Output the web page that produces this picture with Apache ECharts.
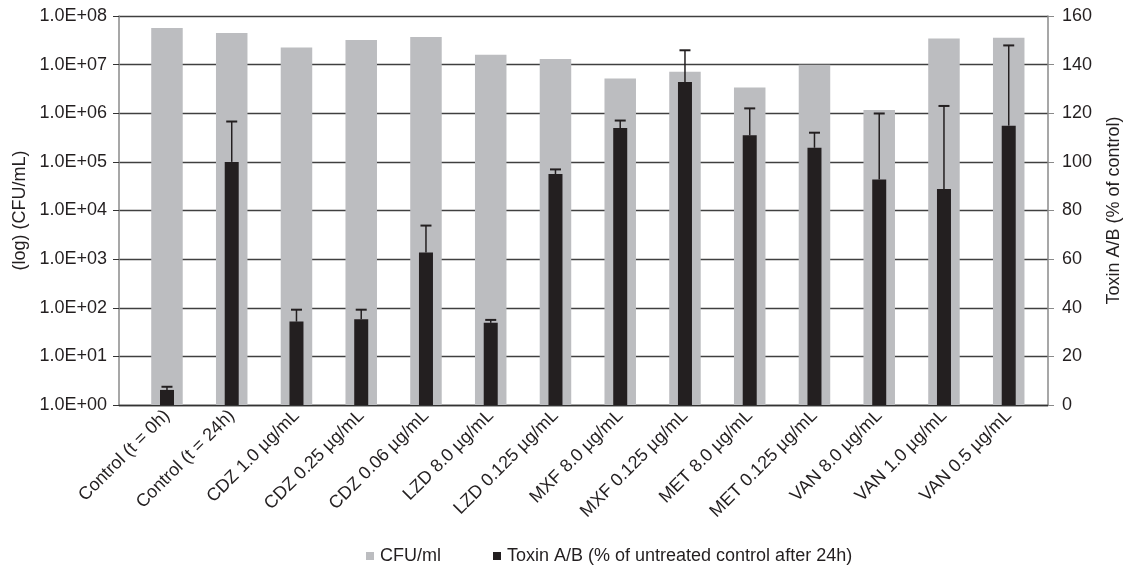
<!DOCTYPE html>
<html>
<head>
<meta charset="utf-8">
<script src="https://cdn.jsdelivr.net/npm/echarts@6/dist/echarts.min.js"></script>
<style>
html,body{margin:0;padding:0;background:#fff;}
#chart{width:1131px;height:569px;}
</style>
</head>
<body>
<div id="chart"></div>
<script>
const categories = ["Control (t = 0h)","Control (t = 24h)","CDZ 1.0 µg/mL","CDZ 0.25 µg/mL","CDZ 0.06 µg/mL","LZD 8.0 µg/mL","LZD 0.125 µg/mL","MXF 8.0 µg/mL","MXF 0.125 µg/mL","MET 8.0 µg/mL","MET 0.125 µg/mL","VAN 8.0 µg/mL","VAN 1.0 µg/mL","VAN 0.5 µg/mL"];
const cfu = [5.65e7, 4.47e7, 2.26e7, 3.2e7, 3.69e7, 1.6e7, 1.3e7, 5.2e6, 7.1e6, 3.4e6, 1.0e7, 1.16e6, 3.46e7, 3.57e7];
const toxin = [6.2, 100, 34.3, 35.3, 62.7, 33.8, 95, 113.9, 132.9, 110.9, 105.8, 92.8, 88.8, 114.9];
const toxinErrTop = [7.5, 116.6, 39.2, 39.2, 73.8, 35, 96.9, 117, 145.9, 122, 112, 119.9, 123, 147.9];

const FONT = "Liberation Sans, Arial, sans-serif";
const TXT = "#231f20";
const FS = 18;
const chart = echarts.init(document.getElementById('chart'));
const gridTop = 16, gridBottom = 164;
chart.setOption({
  animation: false,
  backgroundColor: '#fff',
  textStyle: {fontFamily: FONT},
  grid: [
    {left: 119, right: 75, top: gridTop, bottom: gridBottom},
    {left: 134.6, right: 89.9, top: gridTop, bottom: gridBottom}
  ],
  legend: {
    left: 366, top: 547, padding: 0, itemWidth: 8, itemHeight: 8, itemGap: 52,
    icon: 'rect',
    textStyle: {fontSize: FS, color: TXT, fontFamily: FONT, padding: [0, 0, 0, 1]},
    data: ['CFU/ml', 'Toxin A/B (% of untreated control after 24h)']
  },
  xAxis: [
    {gridIndex: 0, type: 'category', data: categories, axisLabel: {show: false}, axisTick: {show: false},
     axisLine: {show: true, lineStyle: {color: '#333', width: 1.3}}},
    {gridIndex: 1, type: 'category', data: categories, axisLine: {show: false}, axisTick: {show: false},
     axisLabel: {rotate: 45, interval: 0, margin: 8, fontSize: FS, color: TXT, fontFamily: FONT}},
    {gridIndex: 1, type: 'category', data: categories, show: false}
  ],
  yAxis: [
    {gridIndex: 0, type: 'log', min: 1, max: 1e8, logBase: 10, position: 'left',
     name: '(log) (CFU/mL)', nameLocation: 'middle', nameGap: 90,
     nameTextStyle: {fontSize: FS, color: TXT, fontFamily: FONT},
     axisLine: {show: true, lineStyle: {color: '#8a8a8a', width: 1.5}},
     axisTick: {show: true, length: 6, inside: false, lineStyle: {color: '#333'}},
     splitLine: {show: true, lineStyle: {color: '#404040', width: 1.3}},
     axisLabel: {fontSize: FS, color: TXT, fontFamily: FONT, margin: 12,
       formatter: v => '1.0E+0' + Math.round(Math.log10(v))}},
    {gridIndex: 0, type: 'value', min: 0, max: 160, interval: 20, position: 'right',
     name: 'Toxin A/B (% of control)', nameLocation: 'middle', nameGap: 57, nameRotate: 90,
     nameTextStyle: {fontSize: FS, color: TXT, fontFamily: FONT},
     axisLine: {show: true, lineStyle: {color: '#8a8a8a', width: 1.5}},
     axisTick: {show: true, length: 6, lineStyle: {color: '#8a8a8a'}},
     splitLine: {show: false},
     axisLabel: {fontSize: FS, color: TXT, fontFamily: FONT, margin: 14}},
    {gridIndex: 1, type: 'log', min: 1, max: 1e8, logBase: 10, show: false},
    {gridIndex: 1, type: 'value', min: 0, max: 160, interval: 20, show: false}
  ],
  series: [
    {name: 'CFU/ml', type: 'bar', xAxisIndex: 1, yAxisIndex: 2, data: cfu, barWidth: 31.5,
     itemStyle: {color: '#bcbdc0'}},
    {name: 'Toxin A/B (% of untreated control after 24h)', type: 'bar', xAxisIndex: 2, yAxisIndex: 3,
     data: toxin, barWidth: 14, itemStyle: {color: '#231f20'}},
    {type: 'custom', xAxisIndex: 2, yAxisIndex: 3, silent: true, z: 5,
     data: toxin.map((v, i) => [i, v, toxinErrTop[i]]),
     renderItem: function (params, api) {
       const base = api.coord([api.value(0), api.value(1)]);
       const top = api.coord([api.value(0), api.value(2)]);
       const x = base[0], hw = 5.5;
       const st = {stroke: '#231f20', lineWidth: 1.5};
       return {type: 'group', children: [
         {type: 'line', shape: {x1: x, y1: base[1], x2: x, y2: top[1]}, style: st},
         {type: 'line', shape: {x1: x - hw, y1: top[1], x2: x + hw, y2: top[1]}, style: {stroke: '#231f20', lineWidth: 2}}
       ]};
     }}
  ]
});
</script>
</body>
</html>
